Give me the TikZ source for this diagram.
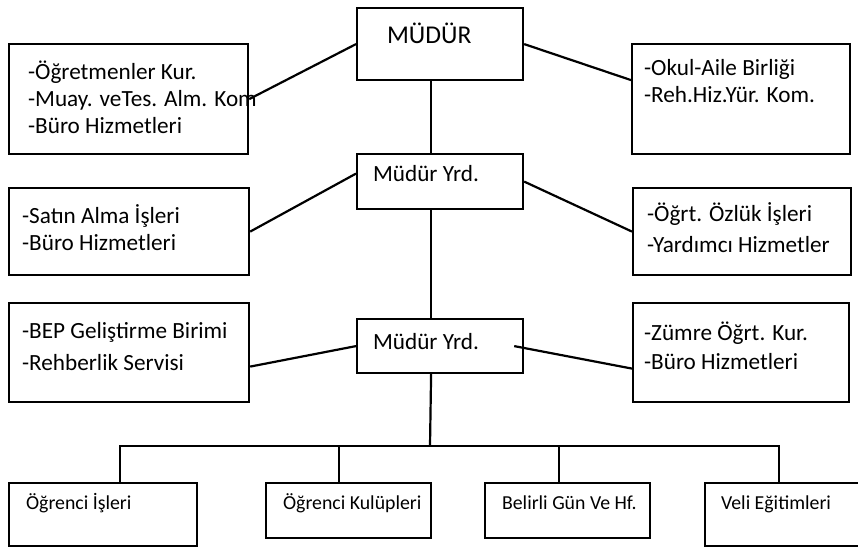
\documentclass[tikz,border=0pt]{standalone}
\usepackage{fontspec}
\setmainfont{Carlito}
\usetikzlibrary{positioning}

\begin{document}
\begin{tikzpicture}[x=1pt, y=-1pt, line width=1.1pt]
    % Define styles
    \tikzset{kutu/.style={rectangle, draw, anchor=north west, inner sep=0pt},
             yazi/.style={inner sep=0pt, align=left, font={\fontsize{11.6}{13.5}\selectfont}, execute at begin node=\strut},
             buyuk/.style={yazi, font={\fontsize{12.8}{14.4}\selectfont}},
             kucuk/.style={yazi, font={\fontsize{9.9}{12}\selectfont}}}
    \clip (0,0) rectangle (429,275);

    % Top: MUDUR
    \node [kutu, minimum width=83pt, minimum height=36pt] (mudur) at (178,3.5) {};
    \node [buyuk, below right=7.3pt and 15pt of mudur.north west] (mudurT) {MÜDÜR};

    \node [kutu, minimum width=119.5pt, minimum height=55pt] (sol1) at (4,21.5) {};
    \node [yazi, below right=8.3pt and 9.5pt of sol1.north west] (sol1T) {-Öğretmenler Kur.\\-Muay. veTes. Alm. Kom\\-Büro Hizmetleri};
    \node [kutu, minimum width=109pt, minimum height=55pt] (sag1) at (315.5,21.5) {};
    \node [yazi, below right=7.5pt and 6pt of sag1.north west] (sag1T) {-Okul-Aile Birliği\\-Reh.Hiz.Yür. Kom.};

    % Middle: first Mudur Yrd.
    \node [kutu, minimum width=83pt, minimum height=27.5pt] (yrda) at (178,76.5) {};
    \node [yazi, below right=4.3pt and 8pt of yrda.north west] (yrdaT) {Müdür Yrd.};

    \node [kutu, minimum width=120pt, minimum height=43.5pt] (sol2) at (4,93.5) {};
    \node [yazi, below right=8pt and 6.5pt of sol2.north west] (sol2T) {-Satın Alma İşleri\\-Büro Hizmetleri};
    \node [kutu, minimum width=109pt, minimum height=43.5pt] (sag2) at (316,93.5) {};
    \node [yazi, below right=7pt and 7pt of sag2.north west] (sag2T) {-Öğrt. Özlük İşleri\\[2pt]-Yardımcı Hizmetler};

    % Middle: second Mudur Yrd.
    \node [kutu, minimum width=83pt, minimum height=27pt] (yrdb) at (178,159) {};
    \node [yazi, below right=6pt and 8pt of yrdb.north west] (yrdbT) {Müdür Yrd.};

    \node [kutu, minimum width=120pt, minimum height=49.5pt] (sol3) at (4,151) {};
    \node [yazi, below right=9.5pt and 6.5pt of sol3.north west] (sol3T) {-BEP Geliştirme Birimi\\[2.5pt]-Rehberlik Servisi};
    \node [kutu, minimum width=108pt, minimum height=49.5pt] (sag3) at (316,151) {};
    \node [yazi, below right=9.5pt and 5.5pt of sag3.north west] (sag3T) {-Zümre Öğrt. Kur.\\[1pt]-Büro Hizmetleri};

    % Bottom row
    \node [kutu, minimum width=94pt, minimum height=31.5pt] (ogris) at (4,241) {};
    \node [kucuk, below right=4.8pt and 8.5pt of ogris.north west] (ogrisT) {Öğrenci İşleri};
    \node [kutu, minimum width=82.5pt, minimum height=27.5pt] (kulup) at (132.5,241) {};
    \node [kucuk, below right=4.8pt and 8.5pt of kulup.north west] (kulupT) {Öğrenci Kulüpleri};
    \node [kutu, minimum width=82.5pt, minimum height=27.5pt] (belirli) at (242,241) {};
    \node [kucuk, below right=4.8pt and 8.5pt of belirli.north west] (belirliT) {Belirli Gün Ve Hf.};
    \node [kutu, minimum width=85pt, minimum height=31.5pt] (veli) at (352,241) {};
    \node [kucuk, below right=4.8pt and 8pt of veli.north west] (veliT) {Veli Eğitimleri};

    % Lines
    \draw (sol1.east) -- (mudur.west);
    \draw (mudur.east) -- ([yshift=9.5pt]sag1.west);
    \draw (sol2.east) -- ([yshift=4pt]yrda.west);
    \draw (yrda.east) -- (sag2.west);
    \draw ([yshift=-7pt]sol3.east) -- (yrdb.west);
    \draw ([xshift=-5pt]yrdb.east) -- ([yshift=-8pt]sag3.west);

    \draw ([xshift=-4.5pt]mudur.south) -- ([xshift=-4.5pt]yrda.north);
    \draw ([xshift=-4.5pt]yrda.south) -- ([xshift=-4.5pt]yrdb.north);
    \coordinate (bus) at (215,223);
    \draw ([xshift=-4.5pt]yrdb.south) -- (bus);
    \foreach \n/\d in {ogris/8.5, kulup/-4.75, belirli/-4.25, veli/-5.5}
        \draw ([xshift=\d pt]\n.north) |- (bus);
\end{tikzpicture}
\end{document}
